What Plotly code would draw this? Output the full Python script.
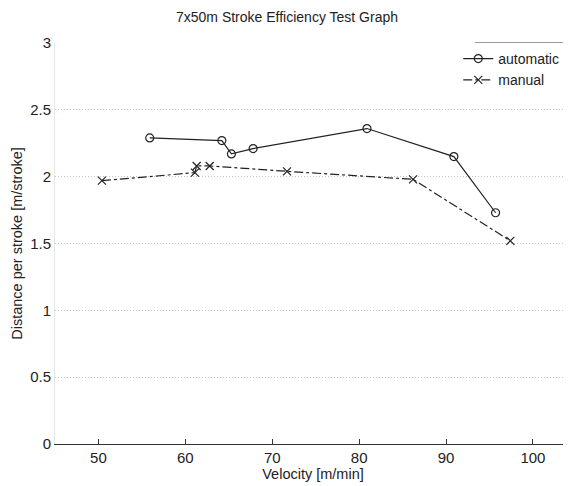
import plotly.graph_objects as go

title_text = "7x50m Stroke Efficiency Test Graph"
x_label = "Velocity [m/min]"
y_label = "Distance per stroke [m/stroke]"

auto_name = "automatic"
auto_velocity = [55.9, 64.2, 65.3, 67.8, 80.9, 90.9, 95.7]
auto_distance = [2.29, 2.27, 2.17, 2.21, 2.36, 2.15, 1.73]

manual_name = "manual"
manual_velocity = [50.4, 61.1, 61.3, 62.8, 71.7, 86.2, 97.4]
manual_distance = [1.97, 2.03, 2.08, 2.08, 2.04, 1.98, 1.52]

x_ticks = [50, 60, 70, 80, 90, 100]
y_ticks = [0, 0.5, 1, 1.5, 2, 2.5, 3]
y_tick_text = ["0", "0.5", "1", "1.5", "2", "2.5", "3"]

# page body has an 8px default margin, so figure coords are viewport - 8
OFF = 8
W, H = 571 - OFF, 486
ML, MT = 55 - OFF, 43 - OFF
MB = H - (444 - OFF)
MR = 0

fig = go.Figure()
fig.add_trace(go.Scatter(
    x=auto_velocity, y=auto_distance, name=auto_name, mode="lines+markers",
    line=dict(color="#222222", width=1.2),
    marker=dict(symbol="circle-open", size=8, color="#222222", line=dict(width=1.2)),
))
fig.add_trace(go.Scatter(
    x=manual_velocity, y=manual_distance, name=manual_name, mode="lines+markers",
    line=dict(color="#222222", width=1.2, dash="dashdot"),
    marker=dict(symbol="x-thin-open", size=8, color="#222222", line=dict(width=1.2, color="#222222")),
))

fig.update_layout(
    width=W, height=H,
    margin=dict(l=ML, r=MR, t=MT, b=MB, pad=0, autoexpand=False),
    paper_bgcolor="white", plot_bgcolor="white",
    font=dict(family="Liberation Sans, Arial, sans-serif", size=14, color="#222222"),
    title=dict(text=title_text, x=(287 - OFF) / W, xanchor="center",
               y=1 - (17 - OFF) / H, yanchor="middle",
               font=dict(size=14, color="#222222")),
    showlegend=True,
    legend=dict(x=(448 - OFF) / W, xanchor="left", y=1.0, yanchor="top",
                bgcolor="white", borderwidth=0, font=dict(size=14, color="#222222"),
                tracegroupgap=0, itemwidth=30),
    xaxis=dict(range=[45, 45 + (W - ML - MR) / 8.69], tickvals=x_ticks, ticks="inside", ticklen=5,
               tickcolor="#333333", showline=True, linecolor="#333333", linewidth=1.2,
               showgrid=False, zeroline=False, automargin=False,
               title=dict(text=x_label, standoff=2, font=dict(size=14.5)),
               tickfont=dict(size=15)),
    yaxis=dict(range=[0, 3], tickvals=y_ticks, ticktext=y_tick_text, ticks="", showline=True,
               linecolor="#e6e6e6", linewidth=1, showgrid=True, gridcolor="#c4c4c4",
               griddash="1px,2px", gridwidth=1, zeroline=False, automargin=False,
               title=dict(text=y_label, standoff=4, font=dict(size=14.5)),
               tickfont=dict(size=15)),
)

fig.add_shape(type="line", xref="paper", yref="paper", x0=(475 - 55) / (W - ML), x1=1.0,
              y0=1.0, y1=1.0, line=dict(color="#333333", width=1.2))

fig.write_html("out.html")
